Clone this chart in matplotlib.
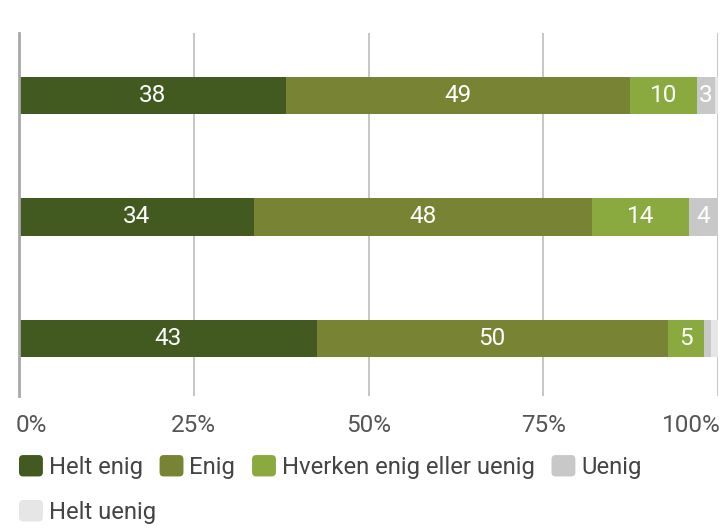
import matplotlib
matplotlib.use("Agg")
import matplotlib.pyplot as plt
import matplotlib.transforms as mtransforms
from matplotlib.patches import FancyBboxPatch, Patch
from matplotlib.legend_handler import HandlerPatch

plt.rcParams["font.family"] = ["Roboto", "DejaVu Sans"]

# 응답 비율 (%)
categories = ["Helt enig", "Enig", "Hverken enig eller uenig", "Uenig", "Helt uenig"]
colors = ["#425920", "#788334", "#8AAA40", "#C8C8C8", "#E6E6E6"]
rows = [0, 1, 2]
helt_enig = [38.2, 33.6, 42.6]
enig = [49.2, 48.4, 50.2]
hverken = [9.6, 13.9, 5.2]
uenig = [2.6, 4.1, 1.0]
helt_uenig = [0.4, 0.0, 1.0]
series = [helt_enig, enig, hverken, uenig, helt_uenig]
xticks = [0, 25, 50, 75, 100]
xticklabels = ["0%", "25%", "50%", "75%", "100%"]

fig = plt.figure(figsize=(7.2, 5.28), dpi=100)
W, H = 720, 528
ax = fig.add_axes([19 / W, 1 - 396 / H, (718 - 19) / W, (396 - 33) / H])

left = [0, 0, 0]
for name, vals, c in zip(categories, series, colors):
    bars = ax.barh(rows, vals, left=left, height=0.31, color=c, label=name, zorder=3)
    labs = [f"{round(v)}" if v >= 2 else "" for v in vals]
    ax.bar_label(bars, labels=labs, label_type="center", color="white", fontsize=17.5)
    left = [a + b for a, b in zip(left, vals)]

ax.set_xlim(0, 100)
ax.set_ylim(2.474, -0.514)
ax.set_yticks([])
ax.set_xticks(xticks, xticklabels)
ax.tick_params(axis="x", length=0, pad=13, labelsize=17.5, labelcolor="#555555")
ax.xaxis.grid(True, color="#BDBDBD", linewidth=1.2, zorder=0)
for s in ["top", "right", "bottom"]:
    ax.spines[s].set_visible(False)
ax.spines["left"].set_color("#A8A8A8")
ax.spines["left"].set_linewidth(2)
ax.spines["left"].set_zorder(4)

# 양 끝 라벨은 안쪽으로 붙이기
tl = ax.get_xticklabels()
tl[0].set_ha("left")
tl[0].set_transform(tl[0].get_transform() + mtransforms.ScaledTranslation(-3 / 100, 0, fig.dpi_scale_trans))
tl[-1].set_ha("right")
tl[-1].set_transform(tl[-1].get_transform() + mtransforms.ScaledTranslation(3 / 100, 0, fig.dpi_scale_trans))


def rounded(legend, orig_handle, xdescent, ydescent, width, height, fontsize):
    return FancyBboxPatch((-xdescent, -ydescent), width, height,
                          boxstyle="round,pad=0,rounding_size=3")


handles = [Patch(facecolor=c, edgecolor="none") for c in colors]
hmap = {Patch: HandlerPatch(patch_func=rounded)}
kw = dict(frameon=False, fontsize=17.2, handlelength=1.0, handleheight=1.0,
          handletextpad=0.25, columnspacing=0.7, borderpad=0, borderaxespad=0,
          labelcolor="#444444", handler_map=hmap)
fig.legend(handles[:4], categories[:4], loc="center left", ncol=4,
           bbox_to_anchor=(19 / W, 1 - 467 / H), **kw)
fig.legend(handles[4:], categories[4:], loc="center left", ncol=1,
           bbox_to_anchor=(19 / W, 1 - 512 / H), **kw)

fig.savefig("out.png", dpi=100)
